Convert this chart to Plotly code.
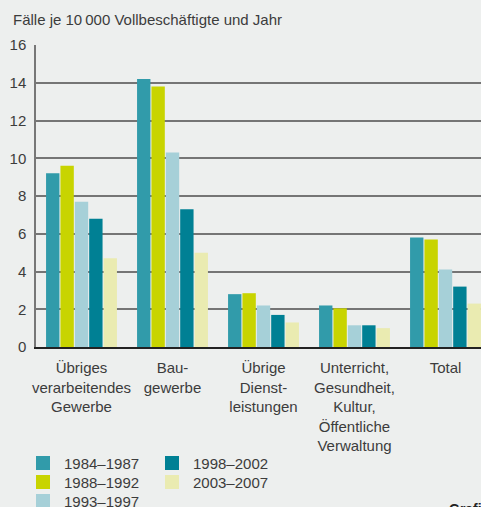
import plotly.graph_objects as go

# Categories (x-axis) and accident rates per period
categories = [
    "Übriges<br>verarbeitendes<br>Gewerbe",
    "Bau-<br>gewerbe",
    "Übrige<br>Dienst-<br>leistungen",
    "Unterricht,<br>Gesundheit,<br>Kultur,<br>Öffentliche<br>Verwaltung",
    "Total",
]
periods = ["1984–1987", "1988–1992", "1993–1997", "1998–2002", "2003–2007"]
values_1984_1987 = [9.2, 14.2, 2.8, 2.2, 5.8]
values_1988_1992 = [9.6, 13.8, 2.85, 2.05, 5.7]
values_1993_1997 = [7.7, 10.3, 2.2, 1.15, 4.1]
values_1998_2002 = [6.8, 7.3, 1.7, 1.15, 3.2]
values_2003_2007 = [4.7, 5.0, 1.3, 1.0, 2.3]
y_ticks = [0, 2, 4, 6, 8, 10, 12, 14, 16]

series = [values_1984_1987, values_1988_1992, values_1993_1997,
          values_1998_2002, values_2003_2007]
colors = ["#319BAA", "#C8D400", "#A6D0D8", "#008094", "#EAEBB1"]

FONT = "Liberation Sans, Arial, Helvetica, sans-serif"
TXT = "#3c3c3c"
BG = "#EDEFEE"

W, H = 481, 507
ml, mt, mb = 36, 45, 160
plot_w = W - ml
plot_h = H - mt - mb
cat_px = 91


def px_x(px):
    return (px - ml) / plot_w


def px_y(py):
    return (H - mb - py) / plot_h


fig = go.Figure()
for name, vals, col in zip(periods, series, colors):
    fig.add_trace(go.Bar(
        x=list(range(len(categories))), y=vals, name=name,
        marker=dict(color=col, line=dict(width=0)),
        showlegend=False,
    ))

fig.update_layout(
    width=W, height=H,
    margin=dict(l=ml, r=0, t=mt, b=mb, pad=0),
    paper_bgcolor=BG, plot_bgcolor=BG,
    font=dict(family=FONT, size=15, color=TXT),
    barmode="group", bargap=0.21, bargroupgap=0.07,
    title=dict(
        text="Fälle je 10\u2009000 Vollbeschäftigte und Jahr",
        x=13 / W, xref="container", xanchor="left",
        y=1 - 20 / H, yref="container", yanchor="middle",
        font=dict(family=FONT, size=15, color=TXT),
    ),
    xaxis=dict(
        tickmode="array", tickvals=list(range(len(categories))),
        ticktext=categories,
        range=[-0.5, -0.5 + plot_w / cat_px],
        showgrid=False, zeroline=False,
        showline=True, linecolor="#222222", linewidth=2,
        ticks="", ticklabelstandoff=6,
        tickfont=dict(family=FONT, size=15, color=TXT),
    ),
    yaxis=dict(
        range=[0, 16], tickmode="array", tickvals=y_ticks,
        showgrid=True, gridcolor="#757575", gridwidth=1.5,
        zeroline=False,
        showline=True, linecolor="#777777", linewidth=1.5,
        ticks="", ticklabelstandoff=5,
        tickfont=dict(family=FONT, size=15, color=TXT),
    ),
    showlegend=False,
)

# Two-column key below the chart, filled column by column
key_cols = [36, 165]
key_rows = [463, 482, 501]
for i, (name, col) in enumerate(zip(periods, colors)):
    cx = key_cols[i // 3]
    cy = key_rows[i % 3]
    fig.add_shape(
        type="rect", xref="paper", yref="paper",
        x0=px_x(cx), x1=px_x(cx + 14), y0=px_y(cy + 7), y1=px_y(cy - 7),
        fillcolor=col, line=dict(width=0),
    )
    fig.add_annotation(
        text=name, xref="paper", yref="paper",
        x=px_x(cx + 26), y=px_y(cy),
        xanchor="left", yanchor="middle", showarrow=False,
        font=dict(family=FONT, size=15, color=TXT),
    )

fig.add_annotation(
    text="<b>Grafik</b>", xref="paper", yref="paper",
    x=px_x(447), y=px_y(499),
    xanchor="left", yanchor="top", showarrow=False,
    font=dict(family=FONT, size=14, color="#222222"),
)

fig.write_html("out.html")
